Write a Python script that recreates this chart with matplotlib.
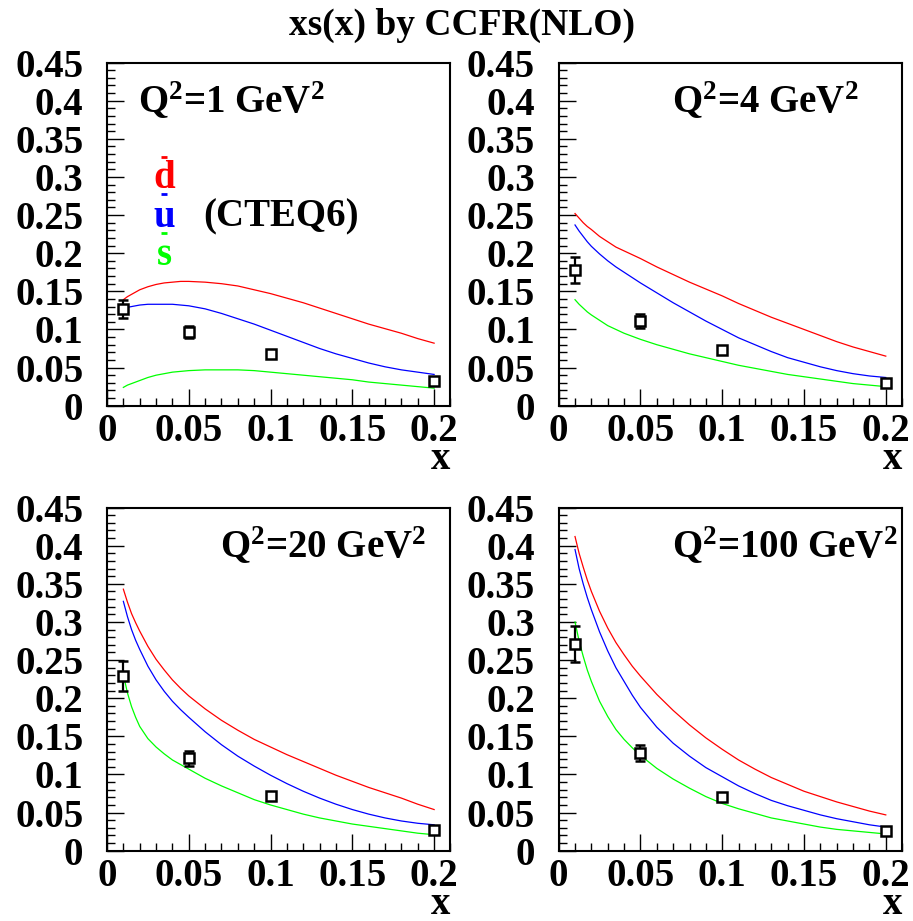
import matplotlib.pyplot as plt
from matplotlib.ticker import MultipleLocator

plt.rcParams['font.family'] = 'Liberation Serif'
plt.rcParams['font.weight'] = 'bold'
plt.rcParams['mathtext.fontset'] = 'custom'
plt.rcParams['mathtext.rm'] = 'Liberation Serif:bold'
plt.rcParams['mathtext.it'] = 'Liberation Serif:bold'
plt.rcParams['mathtext.bf'] = 'Liberation Serif:bold'

# CTEQ6 curves
x_curve = [0.01, 0.0125, 0.015, 0.0175, 0.02, 0.025, 0.03, 0.035, 0.04, 0.045,
           0.05, 0.06, 0.07, 0.08, 0.09, 0.1, 0.11, 0.12, 0.13, 0.14, 0.15,
           0.16, 0.17, 0.18, 0.19, 0.2]
q2_labels = ['1', '4', '20', '100']

dbar = [
    [.139, .143, .146, .149, .152, .156, .159, .161, .162, .163, .163, .162, .160,
     .157, .152, .147, .141, .135, .128, .121, .114, .107, .101, .095, .088, .082],
    [.252, .246, .240, .235, .231, .222, .215, .208, .203, .198, .193, .182, .172,
     .162, .153, .144, .134, .125, .116, .108, .100, .092, .084, .077, .071, .065],
    [.343, .326, .311, .299, .288, .268, .251, .237, .224, .213, .203, .186, .171,
     .158, .146, .136, .126, .117, .108, .099, .091, .083, .076, .069, .061, .054],
    [.412, .390, .372, .355, .340, .314, .292, .273, .257, .242, .229, .205, .184,
     .165, .148, .133, .119, .107, .096, .087, .078, .071, .064, .058, .052, .047],
]
ubar = [
    [.127, .129, .130, .131, .132, .133, .133, .133, .133, .132, .131, .127, .121,
     .114, .107, .099, .091, .083, .075, .068, .062, .056, .051, .047, .044, .041],
    [.237, .229, .222, .215, .209, .199, .190, .182, .175, .168, .161, .148, .135,
     .123, .111, .100, .089, .080, .071, .063, .057, .051, .046, .042, .039, .037],
    [.327, .307, .290, .276, .264, .242, .224, .209, .196, .185, .175, .156, .139,
     .124, .111, .099, .088, .078, .069, .061, .054, .048, .043, .039, .036, .034],
    [.395, .370, .350, .332, .316, .287, .262, .240, .222, .204, .188, .162, .141,
     .124, .109, .097, .085, .075, .066, .059, .053, .047, .042, .038, .034, .031],
]
sbar = [
    [.024, .027, .029, .031, .033, .037, .040, .042, .044, .045, .046, .047, .047,
     .047, .046, .044, .042, .040, .038, .036, .034, .031, .029, .027, .025, .023],
    [.139, .133, .128, .123, .119, .112, .105, .100, .095, .091, .087, .080, .074,
     .068, .063, .058, .053, .049, .045, .041, .038, .035, .032, .029, .027, .025],
    [.231, .207, .189, .175, .163, .147, .136, .127, .119, .113, .107, .095, .085,
     .076, .067, .060, .054, .048, .043, .039, .035, .032, .029, .026, .023, .021],
    [.300, .275, .255, .237, .222, .196, .176, .159, .146, .135, .125, .108, .094,
     .082, .071, .062, .055, .049, .043, .039, .035, .031, .028, .026, .024, .022],
]

# CCFR points
x_data = [0.01, 0.05, 0.1, 0.2]
y_data = [
    [0.127, 0.097, 0.068, 0.032],
    [0.178, 0.111, 0.073, 0.030],
    [0.229, 0.121, 0.072, 0.027],
    [0.271, 0.128, 0.071, 0.026],
]
y_err = [
    [0.012, 0.008, 0.003, 0.002],
    [0.017, 0.009, 0.003, 0.002],
    [0.020, 0.010, 0.003, 0.002],
    [0.024, 0.010, 0.003, 0.002],
]

RED, BLUE, GREEN = '#ff0000', '#0000ff', '#00ff00'
FS = 28

fig = plt.figure(figsize=(9.13, 9.21), dpi=100)
boxes = [(0.1172, 0.5595), (0.6119, 0.5595), (0.1172, 0.0763), (0.6119, 0.0763)]
q2_pos = [0.09, 0.331, 0.329, 0.331]

for i, (l, b) in enumerate(boxes):
    ax = fig.add_axes([l, b, 0.3762, 0.3726])
    ax.plot(x_curve, dbar[i], color=RED, lw=0.9)
    ax.plot(x_curve, ubar[i], color=BLUE, lw=0.9)
    ax.plot(x_curve, sbar[i], color=GREEN, lw=0.9)
    ax.errorbar(x_data, y_data[i], yerr=y_err[i], fmt='s', color='black',
                mfc='white', mec='black', ms=7, mew=1.8, elinewidth=1.6,
                capsize=3.5, capthick=1.6, zorder=5)
    ax.set_xlim(0, 0.21)
    ax.set_ylim(0, 0.45)
    ax.xaxis.set_minor_locator(MultipleLocator(0.01))
    ax.yaxis.set_minor_locator(MultipleLocator(0.01))
    ax.set_xticks([0, 0.05, 0.1, 0.15, 0.2])
    ax.set_xticklabels(['0', '0.05', '0.1', '0.15', '0.2'])
    ax.set_yticks([0, 0.05, 0.1, 0.15, 0.2, 0.25, 0.3, 0.35, 0.4, 0.45])
    ax.set_yticklabels(['0', '0.05', '0.1', '0.15', '0.2', '0.25', '0.3',
                        '0.35', '0.4', '0.45'])
    ax.tick_params(which='both', direction='in', width=1.0, labelsize=FS)
    ax.tick_params(which='major', length=12)
    ax.tick_params(which='minor', length=6)
    ax.tick_params(axis='y', pad=17)
    ax.tick_params(axis='x', pad=5)
    for sp in ax.spines.values():
        sp.set_linewidth(1.5)
    ax.text(1.0, -0.185, 'x', transform=ax.transAxes, ha='right',
            va='baseline', fontsize=FS)
    ax.text(q2_pos[i], 0.853, r'Q$^{2}$=' + q2_labels[i] + r' GeV$^{2}$',
            transform=ax.transAxes, ha='left', va='baseline', fontsize=FS)
    if i == 0:
        for name, col, yb, ybar in [('d', RED, 0.635, 0.725),
                                    ('u', BLUE, 0.521, 0.617),
                                    ('s', GREEN, 0.410, 0.503)]:
            ax.text(0.166, yb, name, color=col, transform=ax.transAxes,
                    ha='center', va='baseline', fontsize=FS)
            ax.plot([0.158, 0.174], [ybar, ybar], color=col, lw=2,
                    transform=ax.transAxes, solid_capstyle='butt')
        ax.text(0.28, 0.521, '(CTEQ6)', transform=ax.transAxes, ha='left',
                va='baseline', fontsize=FS)

fig.text(0.506, 0.962, 'xs(x) by CCFR(NLO)', ha='center', va='baseline',
         fontsize=27)

fig.savefig('out.png', dpi=100)
